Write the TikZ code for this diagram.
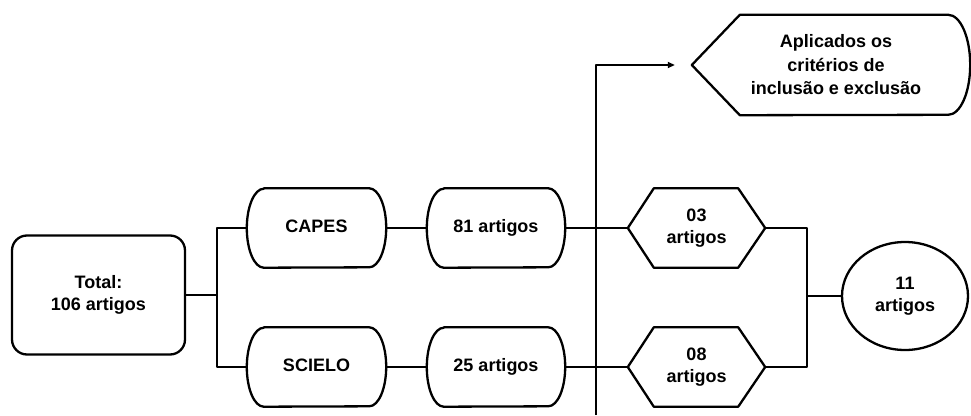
\documentclass[tikz,border=0pt]{standalone}
\usepackage{fontspec}
\setmainfont{Liberation Sans}
\usetikzlibrary{shapes.geometric,arrows.meta}
\begin{document}
\begin{tikzpicture}[x=1pt,y=-1pt,
  ln/.style={line width=2.3pt,line join=round,black},
  txt/.style={font=\bfseries\fontsize{18}{21.5}\selectfont,align=center,inner sep=0pt},
  boxn/.style={txt,minimum width=#1,minimum height=79pt},
  oneline/.style={text height=13pt,text depth=4pt},
]
\useasboundingbox (0,0) rectangle (971,415);
% nodes
\node[txt,draw,ln,rounded corners=15pt,minimum width=173pt,minimum height=119pt] (total) at (98.5,295) {Total:\\106 artigos};
\node[boxn=139pt,oneline] (capes) at (316.5,228) {CAPES};
\node[boxn=139pt,oneline] (scielo) at (316.5,367) {SCIELO};
\node[boxn=138pt,oneline] (a81) at (496,228) {81 artigos};
\node[boxn=138pt,oneline] (a25) at (496,367) {25 artigos};
\node[boxn=137pt] (h03) at (696.5,228) {03\\artigos};
\node[boxn=137pt] (h08) at (696.5,367) {08\\artigos};
\node[txt,ellipse,draw,ln,minimum width=126pt,minimum height=108pt] (e11) at (905,296) {11\\artigos};
\node[txt,font=\bfseries\fontsize{18}{23.5}\selectfont,minimum width=288pt,minimum height=100pt] (crit) at (836,65) {Aplicados os\\critérios de\\inclusão e exclusão};
% outlines
\foreach \n in {capes,scielo,a81,a25}
  \draw[ln] ([xshift=17pt]\n.north west) -- ([xshift=-17pt]\n.north east)
    arc[start angle=90,end angle=-90,x radius=17pt,y radius=39.5pt]
    -- ([xshift=17pt]\n.south west)
    arc[start angle=270,end angle=90,x radius=17pt,y radius=39.5pt] -- cycle;
\foreach \n in {h03,h08}
  \draw[ln] (\n.west) -- ([xshift=26pt]\n.north west) -- ([xshift=-27pt]\n.north east)
    -- (\n.east) -- ([xshift=-27pt]\n.south east) -- ([xshift=26pt]\n.south west) -- cycle;
\draw[ln] (crit.west) -- ([xshift=48pt]crit.north west) -- ([xshift=-32pt]crit.north east)
  arc[start angle=90,end angle=-90,x radius=22pt,y radius=50pt]
  -- ([xshift=48pt]crit.south west) -- cycle;
% connectors
\coordinate (j1) at (217,295);
\coordinate (j2) at (807,296);
\coordinate (vbot) at (596,415);
\coordinate (aend) at ([xshift=-17pt]crit.west);
\draw[ln] (total.east) -- (j1);
\draw[ln] (capes.west) -| (j1) |- (scielo.west);
\draw[ln] (capes.east) -- (a81.west);
\draw[ln] (scielo.east) -- (a25.west);
\draw[ln] (a81.east) -- (h03.west);
\draw[ln] (a25.east) -- (h08.west);
\draw[ln] (h03.east) -| (j2) |- (h08.east);
\draw[ln] (j2) -- (e11.west);
\draw[ln,-{Triangle[length=7pt,width=6pt]}] (vbot) |- (aend);
\end{tikzpicture}
\end{document}
